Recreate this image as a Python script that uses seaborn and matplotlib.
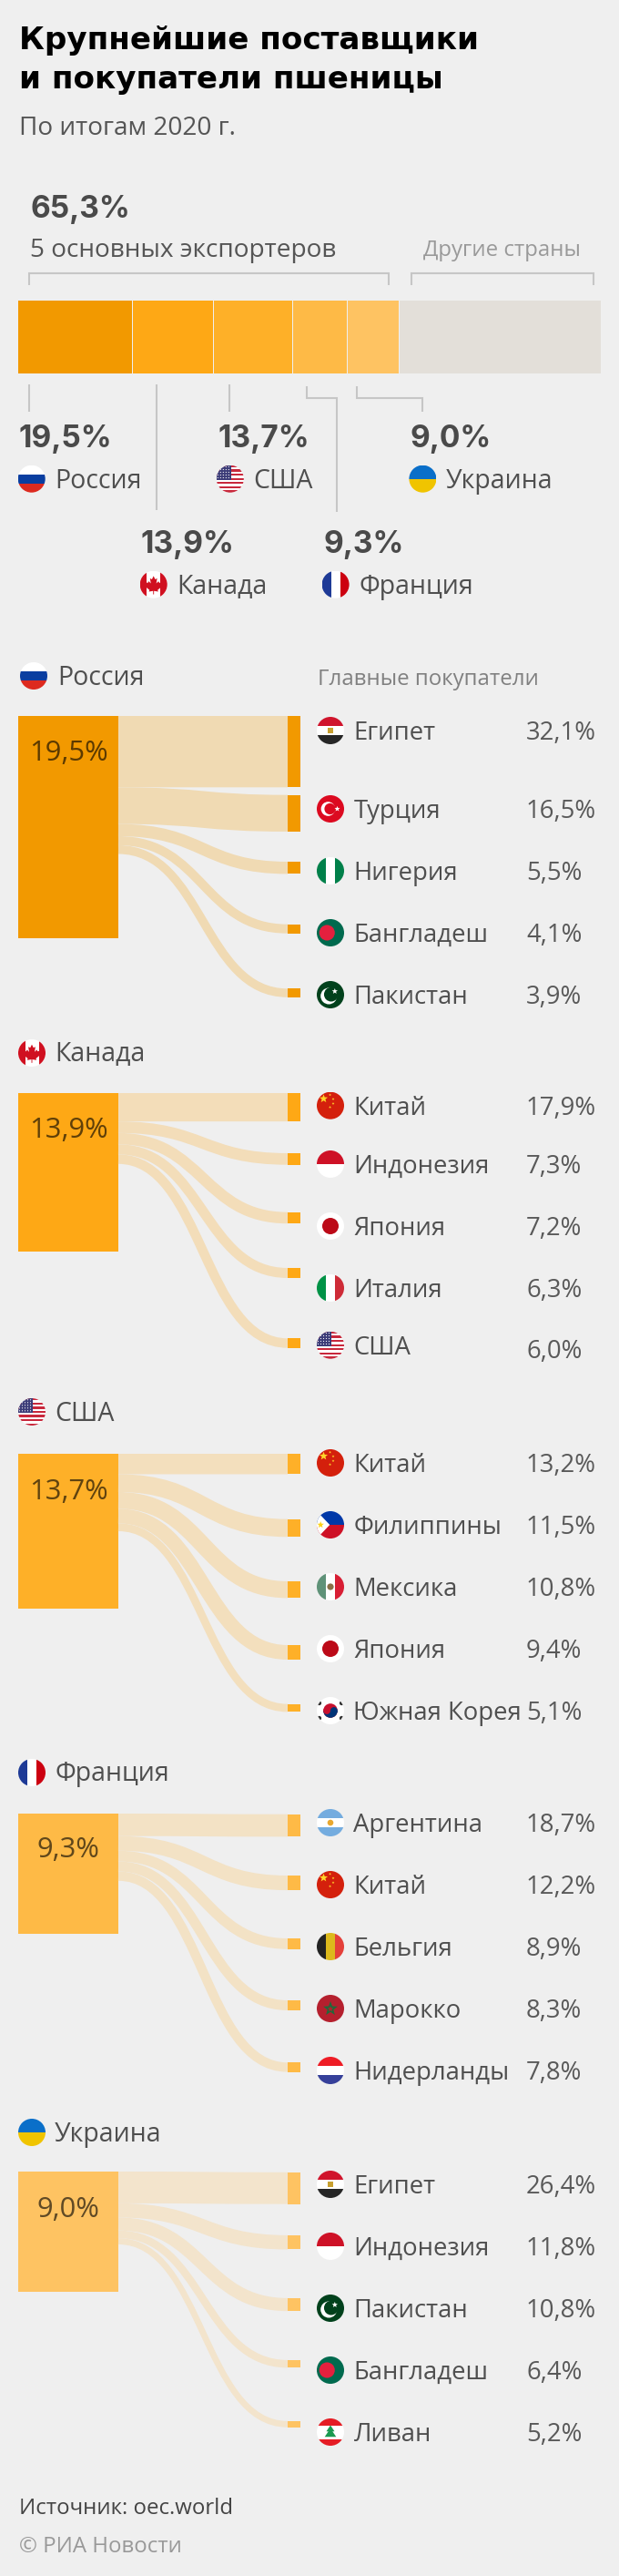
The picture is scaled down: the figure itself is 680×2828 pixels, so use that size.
import numpy as np
import pandas as pd
import seaborn as sns
import matplotlib
matplotlib.use("Agg")
import matplotlib.pyplot as plt
from matplotlib.patches import Circle, Rectangle, Polygon, PathPatch
from matplotlib.path import Path
from matplotlib.colors import to_rgb

# ---------- data ----------
exporters = ["Россия", "Канада", "США", "Франция", "Украина"]
exporter_share = [19.5, 13.9, 13.7, 9.3, 9.0]
other_share = 34.7
top5_label = "65,3%"
russia_buyers = ["Египет", "Турция", "Нигерия", "Бангладеш", "Пакистан"]
russia_values = [32.1, 16.5, 5.5, 4.1, 3.9]
canada_buyers = ["Китай", "Индонезия", "Япония", "Италия", "США"]
canada_values = [17.9, 7.3, 7.2, 6.3, 6.0]
usa_buyers = ["Китай", "Филиппины", "Мексика", "Япония", "Южная Корея"]
usa_values = [13.2, 11.5, 10.8, 9.4, 5.1]
france_buyers = ["Аргентина", "Китай", "Бельгия", "Марокко", "Нидерланды"]
france_values = [18.7, 12.2, 8.9, 8.3, 7.8]
ukraine_buyers = ["Египет", "Индонезия", "Пакистан", "Бангладеш", "Ливан"]
ukraine_values = [26.4, 11.8, 10.8, 6.4, 5.2]
buyers = [russia_buyers, canada_buyers, usa_buyers, france_buyers, ukraine_buyers]
values = [russia_values, canada_values, usa_values, france_values, ukraine_values]

# ---------- layout (pixels) ----------
W, H = 680, 2828
BG = "#efefef"
bar_colors = ["#f29900", "#fea815", "#feb028", "#feba46", "#fec362"]
other_color = "#e3dfd9"
box_top = [786, 1200, 1596, 1991, 2384]
box_height = [244, 174, 170, 132, 132]
target_tops = [[786, 872.7, 946, 1014.7, 1085.3],
               [1200, 1266, 1330.7, 1392, 1469.3],
               [1596, 1667.7, 1736, 1806, 1870.7],
               [1991.7, 2059, 2128, 2196, 2264.3],
               [2384.8, 2453.9, 2522.9, 2590.9, 2657.9]]
row_centers = [[802, 888, 956, 1024, 1092],
               [1213.7, 1278, 1346, 1414, 1476.7],
               [1606, 1674, 1742, 1810, 1878],
               [2001, 2069, 2137, 2205, 2273],
               [2398, 2466, 2534, 2602, 2670]]
header_cy = [742, 1156, 1550, 1946, 2341]
header_cx = [37, 35, 35, 35, 35]
header_tx = [63, 60.5, 60.5, 60, 60]
box_label_base = [835, 1249, 1646, 2039, 2434]

sns.set_theme(style="white", rc={"figure.facecolor": BG, "axes.facecolor": BG})
plt.rcParams["font.family"] = ["Open Sans", "DejaVu Sans"]
fig = plt.figure(figsize=(W / 100, H / 100), dpi=100, facecolor=BG)
ax = fig.add_axes([0, 0, 1, 1])


def txt(x, y, s, px, color="#4a4a4a", ha="left", family=None, weight="normal", alpha=None):
    return ax.text(x, y, s, fontsize=px * 0.72, color=color, ha=ha, va="baseline",
                   family=family or ["Open Sans", "DejaVu Sans"], weight=weight, alpha=alpha)


def hbar(left, length, y, thick, color):
    sns.barplot(x=[length], y=[y], left=left, orient="h", native_scale=True, width=thick,
                color=color, saturation=1, errorbar=None, linewidth=0, ax=ax)


def vbar(x, thick, top, length, color):
    sns.barplot(x=[x], y=[length], bottom=top, orient="x", native_scale=True, width=thick,
                color=color, saturation=1, errorbar=None, linewidth=0, ax=ax)


def mix(c, a=0.25):
    c, b = np.array(to_rgb(c)), np.array(to_rgb(BG))
    return tuple(a * c + (1 - a) * b)


def line(xs, ys):
    ax.plot(xs, ys, color="#c6c6c6", lw=1.5, solid_joinstyle="miter", solid_capstyle="butt", zorder=2)


# ---------- flags ----------
def flag(name, cx, cy, r=15):
    clip = Circle((cx, cy), r, transform=ax.transData)

    def add(p, z=6):
        p.set_linewidth(0)
        p.set_zorder(z)
        ax.add_patch(p)
        p.set_clip_path(clip)

    def rect(u0, v0, u1, v1, c, z=6):
        add(Rectangle((cx + u0 * r, cy + v0 * r), (u1 - u0) * r, (v1 - v0) * r, facecolor=c), z)

    def circ(u, v, rad, c, z=7):
        add(Circle((cx + u * r, cy + v * r), rad * r, facecolor=c), z)

    def poly(pts, c, z=8):
        add(Polygon([(cx + a * r, cy + b * r) for a, b in pts], closed=True, facecolor=c), z)

    def star(u, v, rad, c, z=9, n=5):
        pts = []
        for i in range(2 * n):
            ang = -np.pi / 2 + i * np.pi / n
            q = rad if i % 2 == 0 else rad * 0.42
            pts.append((u + q * np.cos(ang), v + q * np.sin(ang)))
        poly(pts, c, z)

    def hb(cols):
        n = len(cols)
        for i, c in enumerate(cols):
            rect(-1, -1 + 2 * i / n, 1, -1 + 2 * (i + 1) / n, c)

    def vb(cols):
        n = len(cols)
        for i, c in enumerate(cols):
            rect(-1 + 2 * i / n, -1, -1 + 2 * (i + 1) / n, 1, c)

    if name == "Россия":
        hb(["#ffffff", "#0a3ea0", "#dd2a1f"])
    elif name == "Украина":
        hb(["#0a6fc9", "#f0c400"])
    elif name == "Франция":
        vb(["#1e3a96", "#ffffff", "#cc0010"])
    elif name == "Канада":
        rect(-1, -1, 1, 1, "#ffffff")
        rect(-1, -1, -0.5, 1, "#d01020")
        rect(0.5, -1, 1, 1, "#d01020")
        poly([(0, -.62), (.12, -.38), (.26, -.45), (.2, -.08), (.36, -.24), (.42, -.12), (.62, -.16),
              (.54, .08), (.62, .14), (.3, .4), (.34, .52), (.03, .47), (.03, .72), (-.03, .72), (-.03, .47),
              (-.34, .52), (-.3, .4), (-.62, .14), (-.54, .08), (-.62, -.16), (-.42, -.12), (-.36, -.24),
              (-.2, -.08), (-.26, -.45), (-.12, -.38)], "#d01020")
    elif name == "США":
        rect(-1, -1, 1, 1, "#ffffff")
        for i in range(0, 13, 2):
            rect(-1, -1 + 2 * i / 13, 1, -1 + 2 * (i + 1) / 13, "#c8283c")
        rect(-1, -1, 0.05, 0.08, "#3c3c78", 7)
        for v in np.arange(-.88, 0.05, .2):
            for u in np.arange(-.9, 0.05, .2):
                circ(u, v, .04, "#ffffff", 8)
    elif name == "Египет":
        hb(["#d0142c", "#ffffff", "#262626"])
        rect(-.2, -.22, .2, .22, "#c8a030", 7)
    elif name == "Турция":
        rect(-1, -1, 1, 1, "#dc0a20")
        circ(-.17, 0, .52, "#ffffff")
        circ(-.03, 0, .41, "#dc0a20", 8)
        star(.5, 0, .21, "#ffffff")
    elif name == "Нигерия":
        vb(["#00804a", "#ffffff", "#00804a"])
    elif name == "Бангладеш":
        rect(-1, -1, 1, 1, "#006a4e")
        circ(-.25, 0, .57, "#e4203e")
    elif name == "Пакистан":
        rect(-1, -1, 1, 1, "#01411c")
        circ(-.12, .1, .6, "#ffffff")
        circ(.05, -.02, .52, "#01411c", 8)
        star(.32, -.25, .22, "#ffffff")
    elif name == "Китай":
        rect(-1, -1, 1, 1, "#d4200c")
        star(-.5, -.5, .32, "#ffd62a")
        for u, v in [(-.03, -.78), (.2, -.48), (.2, -.15), (-.03, .12)]:
            star(u, v, .1, "#ffd62a")
    elif name == "Индонезия":
        hb(["#ce1126", "#ffffff"])
    elif name == "Япония":
        rect(-1, -1, 1, 1, "#ffffff")
        circ(0, 0, .6, "#bc0a18")
    elif name == "Италия":
        vb(["#009246", "#ffffff", "#ce2b37"])
    elif name == "Филиппины":
        hb(["#0038a8", "#ce1126"])
        poly([(-1, -1), (-.05, 0), (-1, 1)], "#ffffff", 7)
        star(-.72, 0, .26, "#fcd116")
    elif name == "Мексика":
        vb(["#5f9278", "#ffffff", "#d81e34"])
        circ(0, 0, .24, "#8a7048")
    elif name == "Южная Корея":
        rect(-1, -1, 1, 1, "#ffffff")
        circ(0, 0, .52, "#c8102e")
        add(Rectangle((cx - r, cy), 2 * r, r, facecolor="#003478"), 8)
        for p in ax.patches[-1:]:
            p.set_clip_path(Circle((cx, cy), .52 * r, transform=ax.transData))
        circ(-.26, 0, .26, "#c8102e", 9)
        circ(.26, 0, .26, "#003478", 9)
        for u, v in [(-.82, -.55), (.82, -.55), (-.82, .55), (.82, .55)]:
            circ(u, v, .16, "#333333", 9)
    elif name == "Аргентина":
        hb(["#74acdf", "#ffffff", "#74acdf"])
        circ(0, 0, .22, "#e8a830")
    elif name == "Бельгия":
        vb(["#222222", "#dcb91c", "#e4403a"])
    elif name == "Марокко":
        rect(-1, -1, 1, 1, "#b5202e")
        star(0, .02, .55, "#1e6a3a")
        star(0, .04, .23, "#b5202e", 10)
    elif name == "Нидерланды":
        hb(["#ee1c25", "#ffffff", "#36409a"])
    elif name == "Ливан":
        hb(["#e51c24", "#ffffff", "#ffffff", "#e51c24"])
        poly([(0, -.5), (.3, -.05), (.15, -.05), (.42, .35), (-.42, .35), (-.15, -.05), (-.3, -.05)], "#1a9a50")


# ---------- title block ----------
title_font = ["DejaVu Sans"]
num_font = ["Inter", "DejaVu Sans"]
txt(21, 54, "Крупнейшие поставщики", 34.2, "#000000", family=title_font, weight="bold")
txt(21, 97.5, "и покупатели пшеницы", 34.2, "#000000", family=title_font, weight="bold")
txt(21, 148, "По итогам 2020 г.", 28, "#555555")

txt(33.5, 239.5, top5_label, 33.5, "#4a4a4a", family=num_font, weight="bold")
txt(33, 282, "5 основных экспортеров", 28, "#555555")
txt(465, 281, "Другие страны", 24, "#999999")
line([31.7, 31.7, 426.7, 426.7], [313, 300, 300, 313])
line([452, 452, 652, 652], [313, 300, 300, 313])

# ---------- stacked overview bar ----------
scale = 640 / (sum(exporter_share) + other_share)
cum = 0.0
for i, (v, c) in enumerate(zip(exporter_share + [other_share], bar_colors + [other_color])):
    left = 20 + cum * scale
    pad = 1.3 if i else 0
    hbar(left + pad, v * scale - pad, 370, 80, c)
    cum += v

# leaders
line([31.7, 31.7], [422, 452])
line([171.7, 171.7], [422, 559.5])
line([252, 252], [422, 452])
line([337.4, 337.4, 370, 370], [424, 437, 437, 561.5])
line([391.6, 391.6, 464, 464], [424, 437, 437, 452])

ov_pct_x = [20.8, 155, 239.4, 355.6, 451]
ov_pct_y = [491, 607, 491, 607, 491]
ov_flag_x = [34.7, 168.7, 252.8, 368.6, 464.4]
ov_name_x = [60.5, 194.5, 278.5, 394, 490]
for i, name in enumerate(exporters):
    base = ov_pct_y[i]
    txt(ov_pct_x[i], base, f"{exporter_share[i]:.1f}%".replace(".", ","), 33.5, "#4a4a4a",
        family=num_font, weight="bold")
    flag(name, ov_flag_x[i], base + 34.7)
    txt(ov_name_x[i], base + 44.7, name, 28.5, "#4f4f4f")

txt(349, 751.7, "Главные покупатели", 24, "#808080")

# ---------- panels ----------
X0, X1, XB0, XB1 = 20, 130, 316, 330
for p, name in enumerate(exporters):
    color = bar_colors[p]
    flag(name, header_cx[p], header_cy[p])
    txt(header_tx[p], header_cy[p] + 9.5, name, 28.5, "#4f4f4f")

    vbar((X0 + X1) / 2, X1 - X0, box_top[p], box_height[p], color)
    txt((X0 + X1) / 2, box_label_base[p], f"{exporter_share[p]:.1f}%".replace(".", ","), 31,
        "#000000", ha="center", alpha=0.62)

    y_src = box_top[p]
    xm = (X1 + XB0) / 2
    for k, (b, v) in enumerate(zip(buyers[p], values[p])):
        h = box_height[p] * v / 100
        y_t = target_tops[p][k]
        y0, y1 = y_src + h / 2, y_t + h / 2
        verts = [(X1, y0), (xm, y0), (xm, y1), (XB0, y1)]
        codes = [Path.MOVETO, Path.CURVE4, Path.CURVE4, Path.CURVE4]
        ax.add_patch(PathPatch(Path(verts, codes), facecolor="none", edgecolor=mix(color),
                               linewidth=h * 0.72, capstyle="butt", zorder=1))
        vbar((XB0 + XB1) / 2, XB1 - XB0, y_t, h, color)
        y_src += h

        cy = row_centers[p][k]
        flag(b, 363, cy)
        txt(388.5, cy + 10, b, 27.5, "#4f4f4f")
        extra = 4 if (name == "Канада" and b == "США") else 0
        txt(578, cy + 10 + extra, f"{v:.1f}%".replace(".", ","), 27.5, "#595959")

# ---------- footer ----------
txt(20.8, 2759.6, "Источник: oec.world", 24, "#444444")
txt(20.8, 2801.7, "© РИА Новости", 24, "#999999")

ax.set_xlim(0, W)
ax.set_ylim(H, 0)
ax.set_xlabel("")
ax.set_ylabel("")
ax.set_axis_off()
fig.savefig("out.png", dpi=100, facecolor=BG)
